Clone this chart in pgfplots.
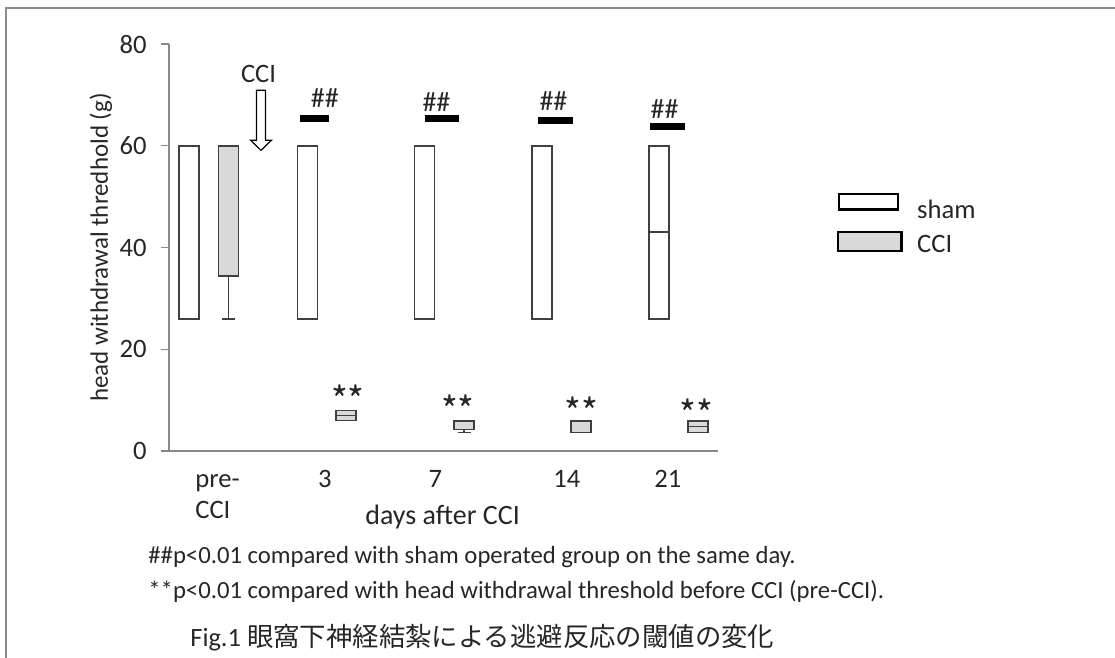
\documentclass[border=0pt]{standalone}
\usepackage{fontspec}
\setmainfont{Carlito}
\newfontfamily\cjk{Noto Sans CJK JP}
\usepackage{pgfplots}
\pgfplotsset{compat=1.18}
\usepgfplotslibrary{statistics}
\definecolor{boxline}{HTML}{404040}
\definecolor{ccifill}{HTML}{D9D9D9}
\definecolor{axgray}{HTML}{898989}
\definecolor{framegray}{HTML}{8C8C8C}
\definecolor{txt}{HTML}{262626}
\pgfplotsset{
  bx/.style={forget plot,
    boxplot/draw direction=y,
    boxplot/box extend=0.1702,
    boxplot/whisker extend=0.11,
    boxplot/every box/.style={draw=boxline, fill=#1, line width=0.8pt},
    boxplot/every whisker/.style={draw=boxline, line width=0.8pt},
    boxplot/every median/.style={draw=boxline, line width=0.8pt},
    draw=boxline, mark=none, solid}
}
\begin{document}
\begin{tikzpicture}
\path[use as bounding box] (0pt,0pt) rectangle (557.5pt,-329pt);
\draw[framegray, line width=1.1pt] (3pt,-329pt) -- (3pt,-4pt) -- (557.5pt,-4pt);
\begin{axis}[
  at={(84.5pt,-225.5pt)}, anchor=south west,
  scale only axis, width=274.5pt, height=203.5pt,
  xmin=-0.336, xmax=4.336, ymin=0, ymax=80,
  clip=false,
  axis x line=bottom, axis y line=left,
  axis line style={axgray, line width=0.6pt, -},
  ytick={0,20,40,60,80},
  tick align=outside,
  major tick length=3.75pt,
  ytick style={axgray, line width=0.6pt},
  /pgf/number format/assume math mode=true,
  ticklabel style={font=\fontsize{13.3}{15.8}\selectfont, text=txt},
  yticklabel style={anchor=east, inner sep=0pt, xshift=-7.25pt},
  xtick={0.077,0.991,1.93,3.05,3.91},
  xticklabels={{\strut pre-\\\strut CCI},\strut 3,\strut 7,\strut 14,\strut 21},
  xtick style={draw=none},
  xticklabel style={align=left, anchor=north, inner sep=0pt, yshift=-3.04pt},
  xlabel={days after CCI},
  xlabel style={at={(axis description cs:0.357,-0.1794)}, anchor=base west, inner sep=0pt, font=\fontsize{14}{16.5}\selectfont, text=txt},
  ylabel={head withdrawal thredhold (g)},
  ylabel style={at={(axis description cs:-0.1239,0.5)}, anchor=center, inner sep=0pt, font=\fontsize{12.5}{15}\selectfont, text=txt},
  legend style={draw=none, fill=none, inner sep=0pt, outer sep=0pt,
    at={(axis description cs:1.21676,0.63391)}, anchor=north west,
    row sep=2.85pt, column sep=0pt,
    /tikz/every even column/.style={column sep=0pt},
    /tikz/every odd column/.style={column sep=0pt},
    cells={anchor=base west},
    nodes={inner sep=0pt, text height=12.5pt, text depth=2pt, font=\fontsize{13.3}{15.8}\selectfont, text=txt}},
]
% sham boxes
\addplot[bx=white, boxplot prepared={lower whisker=26, lower quartile=26, median=60, upper quartile=60, upper whisker=60, draw position=-0.166}] coordinates {};
\addplot[bx=white, boxplot prepared={lower whisker=26, lower quartile=26, median=60, upper quartile=60, upper whisker=60, draw position=0.843}] coordinates {};
\addplot[bx=white, boxplot prepared={lower whisker=26, lower quartile=26, median=60, upper quartile=60, upper whisker=60, draw position=1.840}] coordinates {};
\addplot[bx=white, boxplot prepared={lower whisker=26, lower quartile=26, median=60, upper quartile=60, upper whisker=60, draw position=2.836}] coordinates {};
\addplot[bx=white, boxplot prepared={lower whisker=26, lower quartile=26, median=43, upper quartile=60, upper whisker=60, draw position=3.833}] coordinates {};
% CCI boxes
\addplot[bx=ccifill, boxplot prepared={lower whisker=26, lower quartile=34.4, median=60, upper quartile=60, upper whisker=60, draw position=0.170}] coordinates {};
\addplot[bx=ccifill, boxplot prepared={lower whisker=6, lower quartile=6, median=7, upper quartile=8, upper whisker=8, draw position=1.169}] coordinates {};
\addplot[bx=ccifill, boxplot prepared={lower whisker=3.6, lower quartile=4.26, median=4.26, upper quartile=5.95, upper whisker=5.95, draw position=2.176}] coordinates {};
\addplot[bx=ccifill, boxplot prepared={lower whisker=3.67, lower quartile=3.67, median=5.95, upper quartile=5.95, upper whisker=5.95, draw position=3.170}] coordinates {};
\addplot[bx=ccifill, boxplot prepared={lower whisker=3.67, lower quartile=3.67, median=4.85, upper quartile=5.95, upper whisker=5.95, draw position=4.166}] coordinates {};
% significance bars
\addplot[black, line width=3.5pt, forget plot] coordinates {(0.779,65.3) (1.026,65.3)};
\addplot[black, line width=3.5pt, forget plot] coordinates {(1.843,65.4) (2.132,65.4)};
\addplot[black, line width=3.5pt, forget plot] coordinates {(2.804,64.9) (3.100,64.9)};
\addplot[black, line width=3.5pt, forget plot] coordinates {(3.757,63.7) (4.055,63.7)};
% legend
\addlegendimage{legend image code/.code={\path[draw=none,fill=none] (0pt,0pt) rectangle (40pt,0pt); \draw[black, line width=1.2pt, fill=white] (1pt,4.35pt) rectangle (30.5pt,12pt);}}
\addlegendentry{sham}
\addlegendimage{legend image code/.code={\path[draw=none,fill=none] (0pt,0pt) rectangle (40pt,0pt); \draw[black, line width=1.2pt, fill=ccifill] (0.5pt,1pt) rectangle (32.15pt,10.35pt);}}
\addlegendentry{CCI}
% annotations
\begin{scope}[every node/.style={inner sep=0pt, text=txt}]
\node[font=\fontsize{14}{16}\selectfont] at (axis cs:0.991,69.45) {\#\#};
\node[font=\fontsize{14}{16}\selectfont] at (axis cs:1.940,68.6) {\#\#};
\node[font=\fontsize{14}{16}\selectfont] at (axis cs:2.936,68.8) {\#\#};
\node[font=\fontsize{14}{16}\selectfont] at (axis cs:3.881,67.3) {\#\#};
\node[font=\cjk\fontsize{18}{20}\selectfont] at (axis cs:1.187,10.1) {**};
\node[font=\cjk\fontsize{18}{20}\selectfont] at (axis cs:2.123,8.2) {**};
\node[font=\cjk\fontsize{18}{20}\selectfont] at (axis cs:3.176,7.76) {**};
\node[font=\cjk\fontsize{18}{20}\selectfont] at (axis cs:4.155,7.37) {**};
\node[font=\fontsize{13.3}{15.8}\selectfont] at (axis cs:0.426,74.1) {CCI};
\end{scope}
\draw[black, line width=0.6pt, fill=white] (axis cs:0.4087,70.9) -- (axis cs:0.4087,61.1) -- (axis cs:0.3576,61.1) -- (axis cs:0.447,59.1) -- (axis cs:0.5364,61.1) -- (axis cs:0.4853,61.1) -- (axis cs:0.4853,70.9) -- cycle;
\end{axis}
\begin{scope}[every node/.style={anchor=base west, inner sep=0pt, text=txt}]
\node[font=\fontsize{12.35}{14}\selectfont] at (74pt,-281.5pt) {\#\#p<0.01 compared with sham operated group on the same day.};
\node[font=\fontsize{12.35}{14}\selectfont] at (74pt,-299pt) {**p<0.01 compared with head withdrawal threshold before CCI (pre-CCI).};
\node[font=\fontsize{13.2}{16}\selectfont] at (95pt,-323pt) {Fig.1 {\cjk 眼窩下神経結紮による逃避反応の閾値の変化}};
\end{scope}
\end{tikzpicture}
\end{document}
